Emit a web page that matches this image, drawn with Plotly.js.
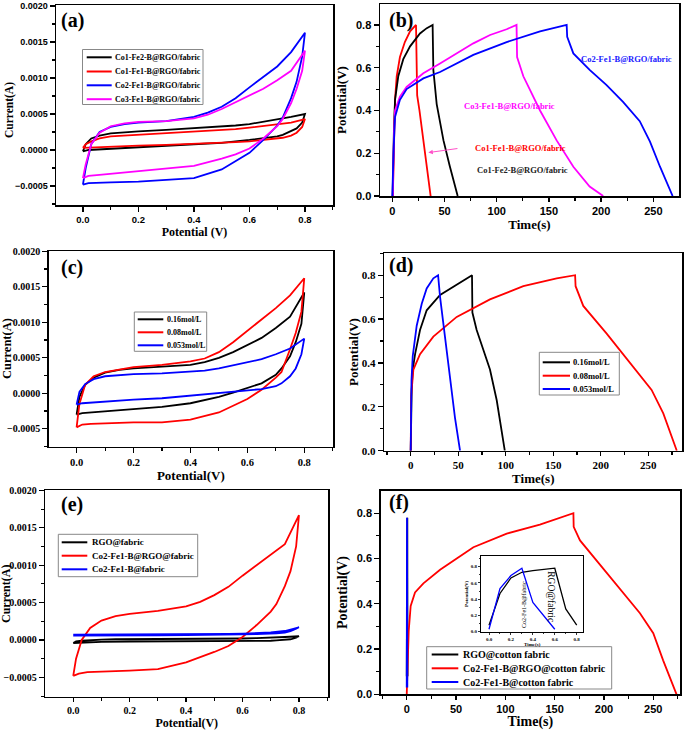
<!DOCTYPE html>
<html><head><meta charset="utf-8">
<script src="https://cdn.plot.ly/plotly-3.0.1.min.js"></script>
<style>html,body{margin:0;padding:0;background:#fff}#chart{width:685px;height:730px}</style>
</head><body><div id="chart"></div>
<script>
// ================= DATA =================
// CV potential sweep (forward 0 -> 0.8 V, then back to 0 V)
const cvSweep = [0,0.01,0.03,0.06,0.1,0.15,0.2,0.3,0.4,0.45,0.5,0.55,0.6,0.65,0.7,0.75,0.8,
                 0.79,0.77,0.75,0.72,0.7,0.65,0.6,0.55,0.5,0.4,0.3,0.2,0.1,0.05,0.02,0];

// (a) CV, different Co:Fe ratios
const aNames = ['Co1-Fe2-B@RGO/fabric','Co1-Fe1-B@RGO/fabric','Co2-Fe1-B@RGO/fabric','Co3-Fe1-B@RGO/fabric'];
const aCo1Fe2 = [-0.00002,0.00008,0.00016,0.0002,0.00023,0.00025,0.00026,0.00028,0.0003,0.00031,0.00032,0.00034,0.00036,0.00039,0.00042,0.00046,0.0005,
                 0.00038,0.0003,0.00026,0.00021,0.00019,0.00016,0.00014,0.00012,0.0001,0.00008,0.00006,0.00004,0.00002,0.00001,0,-0.00002];
const aCo1Fe1 = [0.00003,0.00008,0.00012,0.00016,0.00019,0.0002,0.00021,0.00023,0.00025,0.00026,0.00027,0.00029,0.00031,0.00033,0.00035,0.00038,0.00043,
                 0.00032,0.00024,0.0002,0.00017,0.00016,0.00014,0.00012,0.00011,0.0001,0.00008,0.00007,0.00006,0.00005,0.00004,0.00004,0.00003];
const aCo2Fe1 = [-0.00048,-0.00025,0.00008,0.00025,0.00032,0.00036,0.00038,0.0004,0.00046,0.00052,0.0006,0.00072,0.00087,0.00101,0.00116,0.00136,0.00163,
                 0.0013,0.00095,0.00072,0.00045,0.00034,0.00014,-0.00004,-0.00016,-0.00027,-0.00039,-0.00042,-0.00044,-0.00045,-0.00045,-0.00046,-0.00048];
const aCo3Fe1 = [-0.00039,-0.0002,0.00008,0.00024,0.00033,0.00037,0.00039,0.0004,0.00044,0.00049,0.00057,0.00066,0.00076,0.00085,0.00097,0.0011,0.00138,
                 0.0011,0.00085,0.00065,0.00043,0.00033,0.00016,0.00002,-0.00006,-0.00012,-0.00022,-0.00026,-0.0003,-0.00034,-0.00035,-0.00036,-0.00039];

// (b) GCD, different Co:Fe ratios
const bCo1Fe1T = [0.5,1,1.6,2.6,4.2,7.3,12,17,22.7,23.2,23.8,26,29.7,33,36.7];
const bCo1Fe1V = [0,0.15,0.29,0.45,0.56,0.65,0.72,0.77,0.8,0.6,0.47,0.4,0.26,0.15,0];
const bCo1Fe2T = [0.3,0.8,1.5,2.6,5.7,10.5,17,26.5,33,38.6,39.3,42.5,49,55,62.6];
const bCo1Fe2V = [0,0.2,0.3,0.45,0.56,0.64,0.7,0.76,0.785,0.8,0.59,0.43,0.26,0.14,0];
const bCo3Fe1T = [0.5,1,1.6,2.6,7.3,13.7,29.7,45.7,61.6,77.6,93.6,109.5,119,119.5,125.5,141.5,157.4,173.4,189,202];
const bCo3Fe1V = [0,0.2,0.3,0.4,0.465,0.51,0.574,0.62,0.667,0.714,0.753,0.78,0.8,0.65,0.56,0.4,0.26,0.137,0.044,0];
const bCo2Fe1T = [0,0.5,1.2,2.6,7.3,13.7,29.7,45.7,77.6,109.5,141.5,167,167.5,173.4,189,205,221,237,246.8,256.4,268.5];
const bCo2Fe1V = [0,0.1,0.215,0.37,0.45,0.5,0.55,0.58,0.66,0.72,0.77,0.8,0.745,0.667,0.59,0.52,0.44,0.35,0.254,0.137,0];
const bLabels = ['Co2-Fe1-B@RGO/fabric','Co3-Fe1-B@RGO/fabric','Co1-Fe1-B@RGO/fabric','Co1-Fe2-B@RGO/fabric'];

// (c) CV, different concentrations
const cNames = ['0.16mol/L','0.08mol/L','0.053mol/L'];
const c016 = [-0.0003,-0.00005,0.00012,0.00022,0.00029,0.00033,0.00035,0.00037,0.0004,0.00044,0.0005,0.00058,0.00068,0.00078,0.00092,0.00108,0.00142,
              0.00098,0.00072,0.00052,0.00035,0.00026,0.00014,0.00007,0.00001,-0.00005,-0.00014,-0.00019,-0.00022,-0.00025,-0.00027,-0.00028,-0.0003];
const c008 = [-0.00048,-0.00015,0.00012,0.00024,0.0003,0.00034,0.00037,0.0004,0.00045,0.00049,0.00058,0.00072,0.00088,0.00104,0.0012,0.00138,0.00162,
              0.00115,0.00085,0.00062,0.0003,0.00022,0.00005,-0.00008,-0.00018,-0.00027,-0.00037,-0.00041,-0.00041,-0.00042,-0.00043,-0.00044,-0.00048];
const c0053 = [-0.00016,0.00002,0.00013,0.0002,0.00024,0.00026,0.00027,0.00028,0.0003,0.00032,0.00035,0.00039,0.00043,0.00048,0.00055,0.00063,0.00077,
               0.00055,0.00035,0.00024,0.00014,0.0001,0.00006,0.00004,0.00002,0,-0.00004,-0.00007,-0.00009,-0.00012,-0.00013,-0.00014,-0.00016];

// (d) GCD, different concentrations
const d016T = [0,0.3,1,2.1,4.6,9.8,16.8,30.9,48.4,64.5,64.9,69.4,76.4,83.4,90.5,99];
const d016V = [0,0.2,0.28,0.37,0.44,0.55,0.64,0.71,0.756,0.8,0.63,0.55,0.46,0.37,0.23,0];
const d008T = [0,0.5,2.8,9.8,23.8,48.4,83.4,118.5,153.6,173,173.5,181.6,206,230.7,253.5,265.8,280];
const d008V = [0,0.25,0.37,0.44,0.52,0.61,0.69,0.75,0.786,0.8,0.75,0.66,0.535,0.4,0.277,0.17,0];
const d0053T = [0,0.3,0.8,2.1,6.3,11.6,16.8,23.8,28.8,30.9,36,41.4,46.6,51.9];
const d0053V = [0,0.15,0.32,0.43,0.57,0.67,0.74,0.786,0.8,0.7,0.52,0.33,0.15,0];

// (e) CV, substrates
const eNames = ['RGO@fabric','Co2-Fe1-B@RGO@fabric','Co2-Fe1-B@fabric'];
const eRGO = [-0.00004,-0.00002,-0.00001,0,0.000005,0.00001,0.00001,0.000012,0.000015,0.000017,0.000018,0.00002,0.00002,0.000025,0.00003,0.00004,0.00005,
              0.00003,0.00001,0,-0.000005,-0.00001,-0.00001,-0.000012,-0.000013,-0.000015,-0.000017,-0.00002,-0.00002,-0.000025,-0.00003,-0.000035,-0.00004];
const eCoFeRGO = [-0.00048,-0.00025,0,0.00016,0.00026,0.00032,0.00035,0.00039,0.00045,0.00051,0.0006,0.00071,0.00086,0.001,0.00113,0.00128,0.00167,
                  0.00125,0.00092,0.00072,0.00048,0.00038,0.0002,0.00004,-0.00008,-0.00016,-0.0003,-0.00039,-0.00041,-0.00042,-0.00043,-0.00045,-0.00048];
const eCoFe = [0.00007,0.00007,0.00007,0.00007,0.00007,0.00007,0.000072,0.000074,0.000075,0.000076,0.000078,0.00008,0.000085,0.00009,0.0001,0.00012,0.00017,
               0.00015,0.00012,0.0001,0.00009,0.000085,0.00008,0.000075,0.00007,0.000066,0.000064,0.000062,0.00006,0.00006,0.00006,0.00006,0.00006];

// (f) GCD, substrates (+ inset, short time scale)
const fNames = ['RGO@cotton fabric','Co2-Fe1-B@RGO@cotton fabric','Co2-Fe1-B@cotton fabric'];
const fRGOT = [0,0.1,0.2,0.3,0.4,0.6,0.7,0.8];
const fRGOV = [0.08,0.47,0.66,0.73,0.75,0.78,0.28,0.08];
const fCoFeRGOT = [0,1,2,4,8.4,16.9,33.8,50.7,67.6,101.4,135,169,169.3,175.7,189,202.7,219.6,236.5,250,260,273.6];
const fCoFeRGOV = [0,0.18,0.28,0.39,0.45,0.49,0.55,0.6,0.65,0.71,0.75,0.8,0.74,0.68,0.61,0.535,0.446,0.358,0.27,0.15,0];
const fCoFeT = [0,0.1,0.2,0.3,0.4,0.6];
const fCoFeV = [0.03,0.53,0.69,0.78,0.36,0.03];
const insetLabels = ['Co2-Fe1-B@fabric','RGO@fabric'];

const panelLetters = ['(a)','(b)','(c)','(d)','(e)','(f)'];
const currentTitle = 'Current(A)';

// ================= STYLE / LAYOUT =================
const W = 685, H = 730;
const BLACK = '#000000', RED = '#ff0000', BLUE = '#0000ff', MAG = '#ff00ff';
const SERIF = 'Liberation Serif, Times New Roman, serif';
const SANS = 'Liberation Sans, Arial, sans-serif';
const px = v => v / W, py = v => 1 - v / H;

function axis(o) {
  return {
    domain: o.domain, range: o.range, anchor: o.anchor, autorange: false,
    showline: true, mirror: true, linecolor: '#000', linewidth: o.lw || 1.5,
    ticks: 'outside', ticklen: o.tl || 5, tickwidth: o.tw || 1.3, tickcolor: '#000',
    ticklabelstandoff: o.tls || 0,
    tick0: 0, dtick: o.dtick, tickformat: o.fmt,
    minor: {ticks: 'outside', ticklen: o.mtl || 3, tickwidth: o.tw || 1.1, tickcolor: '#000', tick0: 0, dtick: o.dtick / 2},
    tickfont: {family: o.tf, size: o.ts, color: '#000', weight: 'bold'},
    showgrid: false, zeroline: false, fixedrange: true,
    title: {text: o.title || '', font: {family: SERIF, size: o.tts || 12, color: '#000', weight: 'bold'}, standoff: o.so || 0}
  };
}
function line(x, y, xa, ya, color, w) {
  return {x: x, y: y, xaxis: xa, yaxis: ya, type: 'scatter', mode: 'lines',
          line: {color: color, width: w || 1.8}, showlegend: false, hoverinfo: 'skip'};
}

const traces = [
  line(cvSweep, aCo1Fe2, 'x', 'y', BLACK), line(cvSweep, aCo1Fe1, 'x', 'y', RED),
  line(cvSweep, aCo2Fe1, 'x', 'y', BLUE), line(cvSweep, aCo3Fe1, 'x', 'y', MAG),
  line(bCo1Fe1T, bCo1Fe1V, 'x2', 'y2', RED), line(bCo1Fe2T, bCo1Fe2V, 'x2', 'y2', BLACK),
  line(bCo3Fe1T, bCo3Fe1V, 'x2', 'y2', MAG), line(bCo2Fe1T, bCo2Fe1V, 'x2', 'y2', BLUE),
  line(cvSweep, c016, 'x3', 'y3', BLACK), line(cvSweep, c008, 'x3', 'y3', RED), line(cvSweep, c0053, 'x3', 'y3', BLUE),
  line(d016T, d016V, 'x4', 'y4', BLACK), line(d008T, d008V, 'x4', 'y4', RED), line(d0053T, d0053V, 'x4', 'y4', BLUE),
  line(cvSweep, eRGO, 'x5', 'y5', BLACK), line(cvSweep, eCoFeRGO, 'x5', 'y5', RED), line(cvSweep, eCoFe, 'x5', 'y5', BLUE),
  line(fRGOT, fRGOV, 'x6', 'y6', BLACK), line(fCoFeRGOT, fCoFeRGOV, 'x6', 'y6', RED), line(fCoFeT, fCoFeV, 'x6', 'y6', BLUE),
  line(fRGOT, fRGOV, 'x7', 'y7', BLACK, 1.3), line(fCoFeT, fCoFeV, 'x7', 'y7', BLUE, 1.3)
];

const layout = {
  width: W, height: H, margin: {l: 0, r: 0, t: 0, b: 0},
  paper_bgcolor: '#fff', plot_bgcolor: '#fff', showlegend: false,
  xaxis:  axis({domain: [px(56), px(333)], range: [-0.097, 0.901], anchor: 'y', dtick: 0.2, fmt: '.1f', tf: SANS, ts: 9.5, title: 'Potential (V)', tts: 12, so: 1}),
  yaxis:  axis({domain: [py(205), py(5)], range: [-0.000764, 0.002014], anchor: 'x', dtick: 0.0005, fmt: '.4f', tf: SANS, ts: 9}),
  xaxis2: axis({domain: [px(380), px(679)], range: [-11.8, 274.6], anchor: 'y2', dtick: 50, tf: SANS, ts: 11, title: 'Time(s)', tts: 13, so: 0, tl: 4}),
  yaxis2: axis({domain: [py(196), py(4)], range: [0, 0.898], anchor: 'x2', dtick: 0.2, fmt: '.1f', tf: SANS, ts: 11, title: 'Potential(V)', tts: 13, so: 6}),
  xaxis3: axis({domain: [px(48.7), px(333)], range: [-0.098, 0.901], anchor: 'y3', dtick: 0.2, fmt: '.1f', tf: SERIF, ts: 10.5, title: 'Potential(V)', tts: 13, so: 1}),
  yaxis3: axis({domain: [py(446.7), py(251)], range: [-0.000752, 0.002004], anchor: 'x3', dtick: 0.0005, fmt: '.4f', tf: SERIF, ts: 10}),
  xaxis4: axis({domain: [px(384.3), px(682.3)], range: [-27.8, 285.8], anchor: 'y4', dtick: 50, tf: SERIF, ts: 11, title: 'Time(s)', tts: 13, so: 0, tl: 4}),
  yaxis4: axis({domain: [py(450.7), py(253.3)], range: [0, 0.9], anchor: 'x4', dtick: 0.2, fmt: '.1f', tf: SERIF, ts: 11, title: 'Potential(V)', tts: 13, so: 0}),
  xaxis5: axis({domain: [px(45.3), px(328.3)], range: [-0.099, 0.904], anchor: 'y5', dtick: 0.2, fmt: '.1f', tf: SERIF, ts: 10, title: 'Potential(V)', tts: 12, so: 0, tl: 4}),
  yaxis5: axis({domain: [py(696.7), py(490)], range: [-0.000758, 0.002005], anchor: 'x5', dtick: 0.0005, fmt: '.4f', tf: SERIF, ts: 10}),
  xaxis6: axis({domain: [px(380.7), px(680)], range: [-26.4, 277.1], anchor: 'y6', dtick: 50, tf: SANS, ts: 11, title: 'Time(s)', tts: 14, so: 1, tl: 4}),
  yaxis6: axis({domain: [py(694.3), py(490.7)], range: [0, 0.8996], anchor: 'x6', dtick: 0.2, fmt: '.1f', tf: SANS, ts: 11, title: 'Potential(V)', tts: 14, so: 6}),
  xaxis7: axis({domain: [px(481), px(583.3)], range: [-0.073, 0.86], anchor: 'y7', dtick: 0.2, fmt: '.1f', tf: SERIF, ts: 5, title: 'Time(s)', tts: 5, so: 1, lw: 1, tl: 2, mtl: 1, tw: 0.8}),
  yaxis7: axis({domain: [py(631.7), py(556)], range: [0, 0.93], anchor: 'x7', dtick: 0.2, fmt: '.1f', tf: SERIF, ts: 5, title: 'Potential(V)', tts: 5, so: 1, lw: 1, tl: 2, mtl: 1, tw: 0.8}),
  shapes: [], annotations: []
};

// left-column y-axis titles (placed as annotations so they sit at the page edge like the original)
[[10, 110, 11.5], [7, 349, 12.5], [6, 594, 12]].forEach(p => layout.annotations.push({
  text: currentTitle, xref: 'paper', yref: 'paper', x: px(p[0]), y: py(p[1]), textangle: -90,
  xanchor: 'center', yanchor: 'middle', showarrow: false,
  font: {family: SERIF, size: p[2], color: '#000', weight: 'bold'}
}));

// panel letters
const letterPos = [[72.7, 20.7], [401, 20.7], [71.7, 267.3], [401, 265], [71.7, 504], [399.3, 502.7]];
panelLetters.forEach((t, i) => layout.annotations.push({
  text: t, xref: 'paper', yref: 'paper', x: px(letterPos[i][0]), y: py(letterPos[i][1]),
  xanchor: 'center', yanchor: 'middle', showarrow: false,
  font: {family: SERIF, size: 20, color: '#000', weight: 'bold'}
}));

// manual legends (box + sample line + label), labels from the name arrays
function legend(names, colors, spec) {
  layout.shapes.push({type: 'rect', xref: 'paper', yref: 'paper',
    x0: px(spec.box[0]), x1: px(spec.box[2]), y0: py(spec.box[1]), y1: py(spec.box[3]),
    line: {color: '#888', width: 1}, fillcolor: 'rgba(255,255,255,0)'});
  names.forEach((n, i) => {
    const yy = spec.rows[i];
    layout.shapes.push({type: 'line', xref: 'paper', yref: 'paper',
      x0: px(spec.sx[0]), x1: px(spec.sx[1]), y0: py(yy), y1: py(yy),
      line: {color: colors[i], width: 2}});
    layout.annotations.push({text: n, xref: 'paper', yref: 'paper', x: px(spec.tx), y: py(yy),
      xanchor: 'left', yanchor: 'middle', showarrow: false,
      font: {family: SERIF, size: spec.fs, color: '#000', weight: 'bold'}});
  });
}
legend(aNames, [BLACK, RED, BLUE, MAG], {box: [82.5, 49.5, 203, 104.5], rows: [57.3, 71.5, 85.3, 99.2], sx: [86.7, 111.7], tx: 112.5, fs: 8});
legend(cNames, [BLACK, RED, BLUE], {box: [134.3, 312, 206.7, 351.3], rows: [319.3, 332.3, 345.3], sx: [137.7, 163.3], tx: 164.5, fs: 8});
legend(cNames, [BLACK, RED, BLUE], {box: [539.3, 352.3, 619.3, 395], rows: [362.3, 375.7, 389], sx: [542.7, 570], tx: 571, fs: 8.5});
legend(eNames, [BLACK, RED, BLUE], {box: [58.3, 534.3, 197.7, 576.7], rows: [542.3, 555.7, 569.3], sx: [61.7, 87.3], tx: 89.5, fs: 9});
legend(fNames, [BLACK, RED, BLUE], {box: [426.7, 646.7, 611.7, 689], rows: [654.5, 668.3, 682], sx: [431.7, 458.3], tx: 461, fs: 10});

// (b) curve labels
const bLabelPos = [[224.5, 0.64], [112.7, 0.421], [122.6, 0.223], [124.9, 0.122]];
const bLabelCol = ['#2020ff', MAG, RED, '#222222'];
bLabels.forEach((t, i) => layout.annotations.push({
  text: t, xref: 'x2', yref: 'y2', x: bLabelPos[i][0], y: bLabelPos[i][1],
  xanchor: 'center', yanchor: 'middle', showarrow: false,
  font: {family: SERIF, size: 8.5, color: bLabelCol[i], weight: 'bold'}
}));
// arrow pointing to the Co1-Fe1 curve
layout.annotations.push({text: '', xref: 'x2', yref: 'y2', x: 34.5, y: 0.203,
  axref: 'x2', ayref: 'y2', ax: 63.8, ay: 0.223, showarrow: true,
  arrowhead: 2, arrowsize: 0.9, arrowwidth: 1, arrowcolor: '#ff4fc8'});

// inset labels
layout.annotations.push({text: insetLabels[0], xref: 'x7', yref: 'y7', x: 0.32, y: 0.33, textangle: -90,
  showarrow: false, font: {family: SERIF, size: 6, color: '#000'}});
layout.annotations.push({text: insetLabels[1], xref: 'x7', yref: 'y7', x: 0.57, y: 0.43, textangle: 90,
  showarrow: false, font: {family: SERIF, size: 9.5, color: '#000'}});

Plotly.newPlot('chart', traces, layout, {staticPlot: true, displayModeBar: false});
</script>
</body></html>
